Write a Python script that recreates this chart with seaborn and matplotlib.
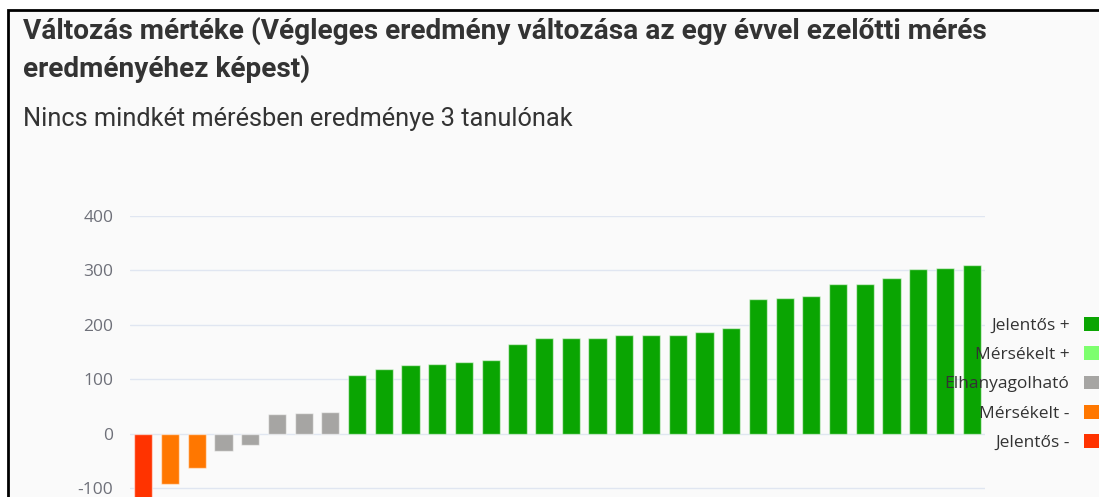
import matplotlib
matplotlib.use("Agg")
import matplotlib.pyplot as plt
from matplotlib.patches import Rectangle, Patch
import pandas as pd
import seaborn as sns

# values, sorted as in the chart
values = [-130, -92, -62, -31, -21, 37, 38, 40,
          108, 119, 127, 128, 133, 135, 165, 177, 177, 177, 181, 181,
          182, 188, 194, 248, 250, 253, 275, 275, 286, 303, 305, 310]
categories = (["Jelentős -"] + ["Mérsékelt -"] * 2 + ["Elhanyagolható"] * 5
              + ["Jelentős +"] * 24)
legend_order = ["Jelentős +", "Mérsékelt +", "Elhanyagolható", "Mérsékelt -", "Jelentős -"]
colors = {
    "Jelentős +": "#0aa502",
    "Mérsékelt +": "#7dff6e",
    "Elhanyagolható": "#a6a5a3",
    "Mérsékelt -": "#ff7700",
    "Jelentős -": "#ff3300",
}
yticks = [-100, 0, 100, 200, 300, 400]

title = "Változás mértéke (Végleges eredmény változása az egy évvel ezelőtti mérés\neredményéhez képest)"
subtitle = "Nincs mindkét mérésben eredménye 3 tanulónak"

df = pd.DataFrame({"student": [str(i) for i in range(len(values))],
                   "change": values,
                   "category": categories})

sns.set_theme(style="white")
plt.rcParams["font.family"] = ["Open Sans", "DejaVu Sans"]

W, H = 1099, 497
fig = plt.figure(figsize=(W / 100, H / 100), dpi=100, facecolor="white")

# card background with black frame
fig.patches.append(Rectangle((8 / W, -0.1), 1.2, 1.1 - 10 / H,
                             transform=fig.transFigure, facecolor="#fafafa",
                             edgecolor="black", linewidth=2, zorder=-5))

ax = fig.add_axes([130 / W, 0, 855 / W, (H - 216) / H])
ax.set_facecolor("none")

sns.barplot(data=df, x="student", y="change", hue="category",
            palette=colors, dodge=False, width=0.68, saturation=1, ax=ax,
            edgecolor=(1, 1, 1, 0.55), linewidth=1, legend=False, zorder=3)

ax.set_xlim(-0.5, len(values) - 0.5)
ax.set_ylim(-115.6, 400)
ax.set_yticks(yticks)
ax.set_yticklabels([str(t) for t in yticks])
ax.set_xticks([])
ax.set_xlabel("")
ax.set_ylabel("")
ax.tick_params(axis="y", length=0, pad=12, labelsize=12.5, labelcolor="#6e7079")
ax.grid(axis="y", color="#e0e6f1", linewidth=1, zorder=0)
sns.despine(ax=ax, left=True, bottom=True, top=True, right=True)

handles = [Patch(facecolor=colors[c], edgecolor="none") for c in legend_order]
fig.legend(handles, legend_order, loc="center right",
           bbox_to_anchor=(1.004, (H - 384) / H), frameon=False,
           markerfirst=False, fontsize=12.5, labelcolor="#333333",
           handlelength=1.1, handleheight=0.85, handletextpad=0.85,
           labelspacing=0.72, borderpad=0, borderaxespad=0)

fig.text(23 / W, 1 - 50 / H, title, fontsize=20.2, fontweight="bold",
         color="#333333", va="center", ha="left", linespacing=1.45,
         family=["Roboto", "DejaVu Sans"])
fig.text(23 / W, 1 - 119 / H, subtitle, fontsize=18.3, color="#333333",
         va="center", ha="left", family=["Roboto", "DejaVu Sans"])

fig.savefig("out.png", dpi=100, facecolor="white")
